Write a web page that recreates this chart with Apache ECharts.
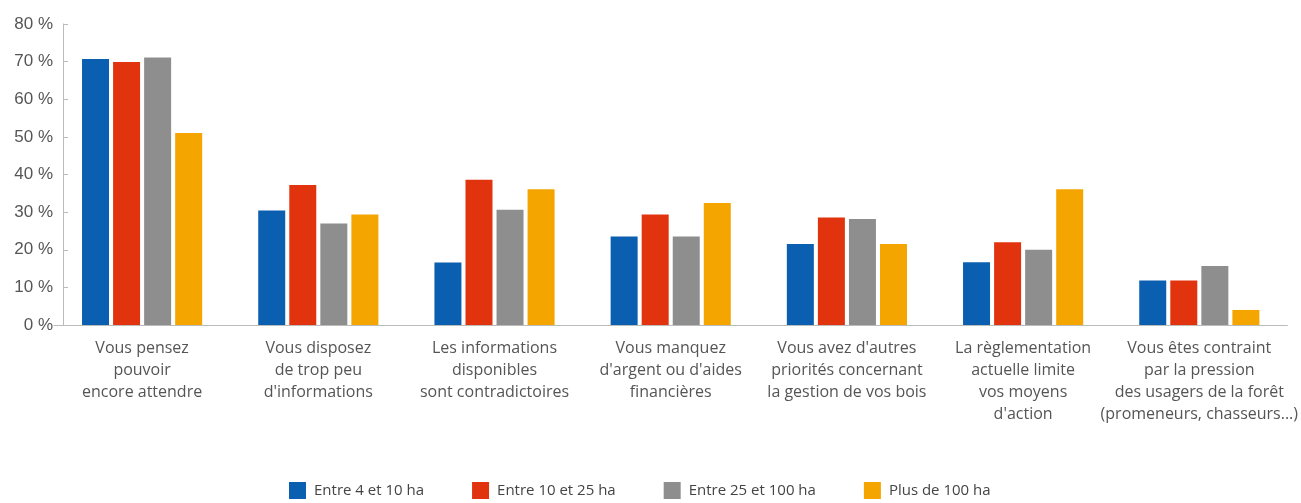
<!DOCTYPE html>
<html>
<head>
<meta charset="utf-8">
<script src="https://cdn.jsdelivr.net/npm/echarts@6/dist/echarts.min.js"></script>
<style>
  html, body { margin: 0; padding: 0; background: #fff; }
  #chart { width: 1301px; height: 503px; }
</style>
</head>
<body>
<div id="chart"></div>
<script>
// Raisons invoquées, par taille de propriété (en %)
const categories = [
  'Vous pensez\npouvoir\nencore attendre',
  'Vous disposez\nde trop peu\nd\'informations',
  'Les informations\ndisponibles\nsont contradictoires',
  'Vous manquez\nd\'argent ou d\'aides\nfinancières',
  'Vous avez d\'autres\npriorités concernant\nla gestion de vos bois',
  'La règlementation\nactuelle limite\nvos moyens\nd\'action',
  'Vous êtes contraint\npar la pression\ndes usagers de la forêt\n(promeneurs, chasseurs...)'
];
const seriesNames = ['Entre 4 et 10 ha', 'Entre 10 et 25 ha', 'Entre 25 et 100 ha', 'Plus de 100 ha'];
const entre4et10 = [70.7, 30.4, 16.6, 23.5, 21.5, 16.7, 11.8];
const entre10et25 = [69.9, 37.2, 38.6, 29.4, 28.6, 22.0, 11.8];
const entre25et100 = [71.1, 27.0, 30.6, 23.5, 28.2, 20.0, 15.7];
const plusDe100 = [51.0, 29.4, 36.1, 32.4, 21.5, 36.1, 4.0];
const yTicks = { min: 0, max: 80, interval: 10 };

const colors = ['#0a5fb0', '#e2330f', '#8e8e8e', '#f5a500'];
const values = [entre4et10, entre10et25, entre25et100, plusDe100];

const chart = echarts.init(document.getElementById('chart'), null, { renderer: 'canvas' });

chart.setOption({
  animation: false,
  color: colors,
  grid: { left: 54, right: 13, top: 24, bottom: 178, containLabel: false },
  legend: {
    left: 284,
    top: 477,
    itemWidth: 17,
    itemHeight: 17,
    itemGap: 48,
    icon: 'rect',
    textStyle: { fontFamily: 'Open Sans', fontSize: 15, color: '#444', padding: [0, 0, 0, 3] },
    data: seriesNames
  },
  xAxis: {
    type: 'category',
    data: categories,
    axisLine: { lineStyle: { color: '#bbbbbb', width: 1 } },
    axisTick: { show: false },
    axisLabel: {
      interval: 0,
      margin: 12,
      fontFamily: 'Open Sans',
      fontSize: 16,
      lineHeight: 22,
      color: '#555'
    }
  },
  yAxis: {
    type: 'value',
    min: yTicks.min,
    max: yTicks.max,
    interval: yTicks.interval,
    offset: -9,
    axisLine: { show: true, lineStyle: { color: '#bbbbbb', width: 1 } },
    axisTick: { show: true, inside: true, length: 5, lineStyle: { color: '#bbbbbb' } },
    splitLine: { show: false },
    axisLabel: {
      formatter: '{value} %',
      margin: 10,
      fontFamily: 'Liberation Sans',
      fontSize: 17,
      color: '#555'
    }
  },
  series: seriesNames.map((name, i) => ({
    name: name,
    type: 'bar',
    data: values[i],
    barWidth: 27,
    barGap: '15%',
    itemStyle: { color: colors[i] }
  }))
});
</script>
</body>
</html>
